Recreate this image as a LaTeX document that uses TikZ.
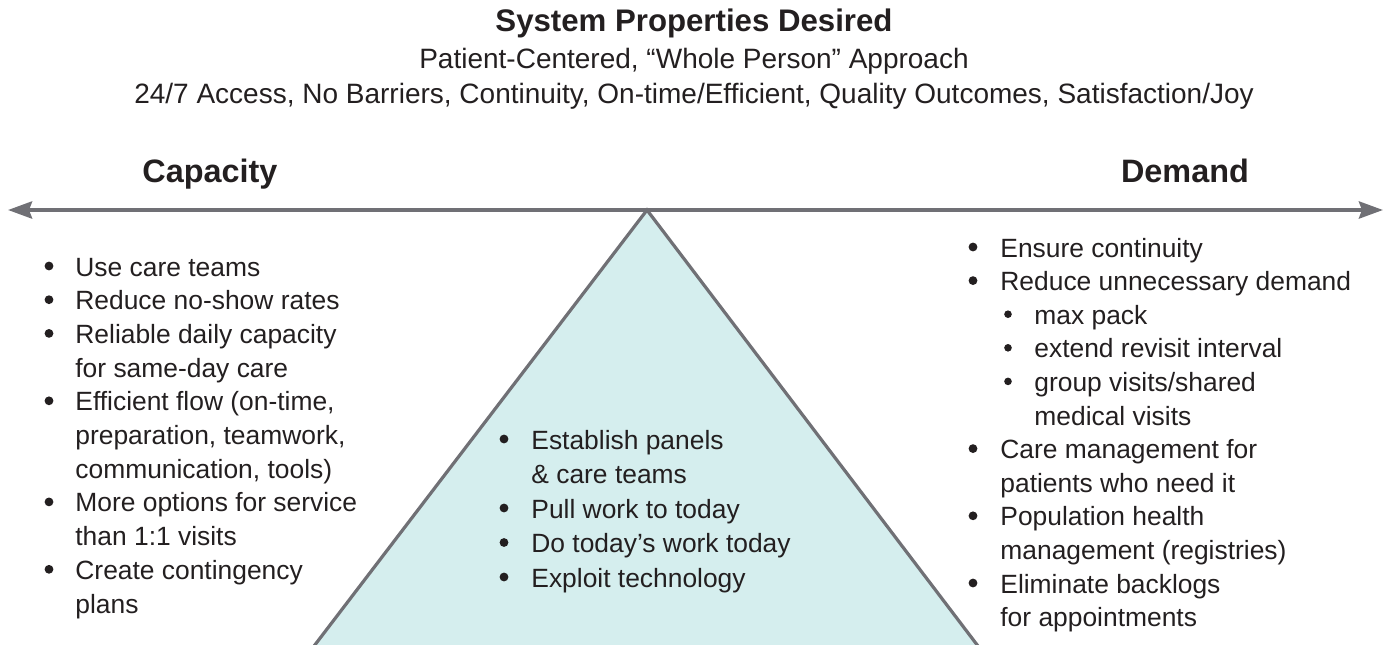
\documentclass[tikz,border=0pt]{standalone}
\usepackage{fontspec}
\setmainfont{Liberation Sans}
\usepackage{tikz}
\usetikzlibrary{arrows.meta,calc,positioning}
\usepackage{xcolor}
\definecolor{InkGray}{HTML}{231F20}
\definecolor{BeamGray}{HTML}{707075}
\definecolor{FulcrumCyan}{HTML}{D5EEEE}

\begin{document}
\begin{tikzpicture}[x=0.5pt,y=-0.5pt,
    txt/.style={anchor=base west,inner sep=0pt,text=InkGray,font=\fontsize{13.2}{16}\selectfont},
    head/.style={anchor=base,inner sep=0pt,text=InkGray,font=\bfseries\fontsize{16.2}{19}\selectfont},
    sub/.style={anchor=base,inner sep=0pt,text=InkGray,font=\fontsize{14}{17}\selectfont},
    dot/.style={circle,fill=InkGray,inner sep=0pt,minimum size=4.4pt},
    smalldot/.style={dot,minimum size=3.8pt}]
    \clip (0,0) rectangle (1389,644);

    % heading
    \node[head,font=\bfseries\fontsize{15.6}{19}\selectfont] (title) at (694,31) {System Properties Desired};
    \node[sub] (approach) at (694,68) {Patient-Centered, “Whole Person” Approach};
    \node[sub] (props) at (694,103) {24/7 Access, No Barriers, Continuity, On-time/Efficient, Quality Outcomes, Satisfaction/Joy};
    \node[head] (capacity) at (210,182) {Capacity};
    \node[head] (demand) at (1185,182) {Demand};

    % fulcrum and beam
    \coordinate (apex) at (647,210);
    \coordinate (baseL) at (311,650);
    \coordinate (baseR) at (981,650);
    \fill[FulcrumCyan] (apex) -- (baseL) -- (baseR) -- cycle;
    \draw[BeamGray,line width=1.6pt] (baseL) -- (apex) -- (baseR);
    \coordinate (westend) at (8,210);
    \coordinate (eastend) at (1383,210);
    \draw[BeamGray,line width=2pt,{Stealth[length=12pt,width=8.5pt,inset=1.5pt]}-{Stealth[length=12pt,width=8.5pt,inset=1.5pt]}] (westend) -- (eastend);

    % capacity list
    \foreach \b/\t [count=\i from 0] in {1/Use care teams, 1/Reduce no-show rates, 1/Reliable daily capacity,
        0/for same-day care, 1/{Efficient flow (on-time,}, 0/{preparation, teamwork,}, 0/{communication, tools)},
        1/More options for service, 0/than 1:1 visits, 1/Create contingency, 0/plans}{
        \node[txt] (cap\i) at (75,276+33.7*\i) {\t};
        \ifnum\b=1 \node[dot] (capdot\i) at ($(cap\i.base west)+(-26,-10)$) {}; \fi
    }

    % fulcrum list
    \foreach \b/\t [count=\i from 0] in {1/Establish panels, 0/\& care teams, 1/Pull work to today,
        1/Do today’s work today, 1/Exploit technology}{
        \node[txt] (mid\i) at (531,449+34.5*\i) {\t};
        \ifnum\b=1 \node[dot] (middot\i) at ($(mid\i.base west)+(-27,-10)$) {}; \fi
    }

    % demand list
    \foreach \b/\x/\t [count=\i from 0] in {1/1000/Ensure continuity, 1/1000/Reduce unnecessary demand,
        2/1034/max pack, 2/1034/extend revisit interval, 2/1034/{group visits/shared}, 0/1034/medical visits,
        1/1000/Care management for, 0/1000/patients who need it, 1/1000/Population health,
        0/1000/management (registries), 1/1000/Eliminate backlogs, 0/1000/for appointments}{
        \node[txt] (dem\i) at (\x,257+33.6*\i) {\t};
        \ifnum\b=1 \node[dot] (demdot\i) at ($(dem\i.base west)+(-27,-10)$) {}; \fi
        \ifnum\b=2 \node[smalldot] (demdot\i) at ($(dem\i.base west)+(-26,-10)$) {}; \fi
    }
\end{tikzpicture}
\end{document}
